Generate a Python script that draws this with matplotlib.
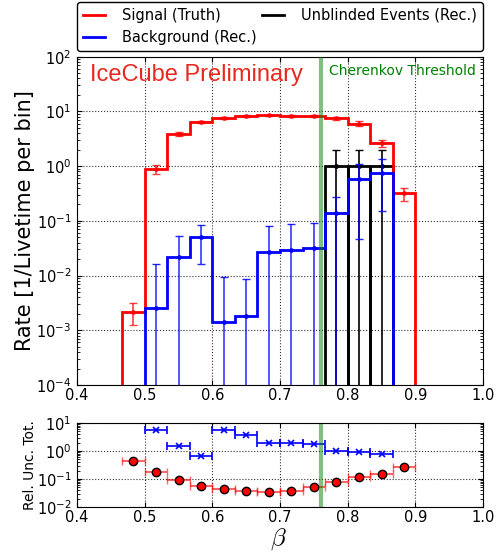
import numpy as np
import matplotlib
matplotlib.use("Agg")
import matplotlib.pyplot as plt

# binning in beta (30 bins between 0 and 1, only the filled ones kept)
bin_edges = [0.4667, 0.5, 0.5333, 0.5667, 0.6, 0.6333, 0.6667, 0.7,
             0.7333, 0.7667, 0.8, 0.8333, 0.8667, 0.9]

# signal rate per bin (truth) and its relative uncertainty
signal_rate = [0.0022, 0.89, 3.85, 6.4, 7.55, 8.2, 8.45, 8.1, 8.2, 7.45, 6.0, 2.63, 0.316]
signal_relunc = [0.44, 0.183, 0.095, 0.056, 0.043, 0.036, 0.035, 0.038,
                 0.052, 0.078, 0.118, 0.155, 0.26]

# background rate (reco) starts at 0.5 and stops at 0.8667
bkg_edges = bin_edges[1:-1]
bkg_rate = [0.0025, 0.0216, 0.050, 0.00144, 0.00186, 0.0271, 0.0295,
            0.0325, 0.138, 0.57, 0.755]
bkg_relunc = [5.6, 1.47, 0.68, 5.5, 3.6, 1.93, 1.99, 1.83, 1.0, 0.92, 0.80]

# unblinded events (reco)
data_edges = [0.7667, 0.8, 0.8333, 0.8667]
data_rate = [1.0, 1.0, 1.0]
data_err = [1.0, 1.0, 1.0]

cherenkov_beta = 0.76

plt.rcParams['font.family'] = 'DejaVu Sans'
plt.rcParams['xtick.direction'] = 'in'
plt.rcParams['ytick.direction'] = 'in'
plt.rcParams['xtick.top'] = True
plt.rcParams['ytick.right'] = True
plt.rcParams['xtick.labelsize'] = 10.5
plt.rcParams['ytick.labelsize'] = 10.5
plt.rcParams['xtick.major.pad'] = 2.5
plt.rcParams['ytick.major.pad'] = 4
plt.rcParams['grid.linestyle'] = ':'
plt.rcParams['grid.color'] = 'black'
plt.rcParams['grid.linewidth'] = 0.8
plt.rcParams['grid.alpha'] = 0.8

fig = plt.figure(figsize=(5.02, 5.56), dpi=100)
ax = fig.add_axes([0.1534, 0.3076, 0.8088, 0.5905])
axr = fig.add_axes([0.1534, 0.0881, 0.8088, 0.1511])

edges = np.array(bin_edges)
centers = 0.5 * (edges[1:] + edges[:-1])
b_edges = np.array(bkg_edges)
b_centers = 0.5 * (b_edges[1:] + b_edges[:-1])
d_edges = np.array(data_edges)
d_centers = 0.5 * (d_edges[1:] + d_edges[:-1])

sig = np.array(signal_rate)
sig_err = sig * np.array(signal_relunc)
bkg = np.array(bkg_rate)
bkg_err = bkg * np.array(bkg_relunc)

floor = 1e-6

# unblinded events as open black bars
ax.bar(d_centers, data_rate, width=np.diff(d_edges), bottom=floor, fill=False,
       edgecolor='black', linewidth=2, zorder=3)
ax.errorbar(d_centers, data_rate, yerr=[np.array(data_rate) - floor, data_err], fmt='.',
            color='black', markersize=5, capsize=3, elinewidth=1.2, zorder=3)

# signal
ax.stairs(sig, edges, baseline=floor, color='red', linewidth=2, zorder=4)
ax.errorbar(centers, sig, yerr=[np.minimum(sig_err, sig - floor), sig_err], fmt='.',
            color='red', markersize=5, capsize=3, elinewidth=1.2, alpha=0.75, zorder=4)

# background
ax.stairs(bkg, b_edges, baseline=floor, color='blue', linewidth=2, zorder=5)
ax.errorbar(b_centers, bkg, yerr=[np.minimum(bkg_err, bkg - floor), bkg_err], fmt='.',
            color='blue', markersize=5, capsize=3, elinewidth=1.1, alpha=0.85, zorder=5)

ax.axvline(cherenkov_beta, color='green', alpha=0.5, linewidth=3, zorder=6)

ax.set_yscale('log')
ax.set_xlim(0.4, 1.0)
ax.set_ylim(1e-4, 1e2)
ax.set_xticks([0.4, 0.5, 0.6, 0.7, 0.8, 0.9, 1.0])
ax.grid(True, which='major')
ax.set_ylabel('Rate [1/Livetime per bin]', fontsize=15, labelpad=1)

ax.text(0.032, 0.927, 'IceCube Preliminary', transform=ax.transAxes, color='#e8281e',
        fontsize=17, family='Liberation Sans', va='baseline', ha='left')
ax.text(0.62, 0.943, 'Cherenkov Threshold', transform=ax.transAxes, color='green',
        fontsize=10, va='baseline', ha='left')

# legend above the axes
h_sig, = ax.plot([], [], color='red', linewidth=2)
h_bkg, = ax.plot([], [], color='blue', linewidth=2)
h_dat, = ax.plot([], [], color='black', linewidth=2)
fig.legend([h_sig, h_bkg, h_dat],
           ['Signal (Truth)', 'Background (Rec.)', 'Unblinded Events (Rec.)'],
           loc='lower left', bbox_to_anchor=(77 / 502, 1 - 51 / 556, 406 / 502, 48 / 556),
           mode='expand', ncol=2, fontsize=10.5, frameon=True, fancybox=True,
           edgecolor='black', framealpha=1, borderaxespad=0, handlelength=1.5,
           handletextpad=1.2, columnspacing=0.5)

# relative uncertainty panel
axr.errorbar(b_centers, bkg_relunc, xerr=np.diff(b_edges) / 2, fmt='x', color='blue',
             markersize=5, capsize=3, elinewidth=1.2, markeredgewidth=1.2)
axr.errorbar(centers, signal_relunc, xerr=np.diff(edges) / 2, fmt='o', color='red',
             ecolor=(1, 0, 0, 0.6), markeredgecolor='black', markersize=6, capsize=3,
             elinewidth=1.5)
axr.axvline(cherenkov_beta, color='green', alpha=0.5, linewidth=3)
axr.set_yscale('log')
axr.set_xlim(0.4, 1.0)
axr.set_ylim(1e-2, 1e1)
axr.set_xticks([0.4, 0.5, 0.6, 0.7, 0.8, 0.9, 1.0])
axr.grid(True, which='major')
axr.set_ylabel('Rel. Unc. Tot.', fontsize=10, labelpad=0)
fig.text(0.555, 1 - 539 / 556, r'$\beta$', fontsize=18, ha='center', va='center',
         math_fontfamily='cm')

fig.savefig('out.png', dpi=100)
